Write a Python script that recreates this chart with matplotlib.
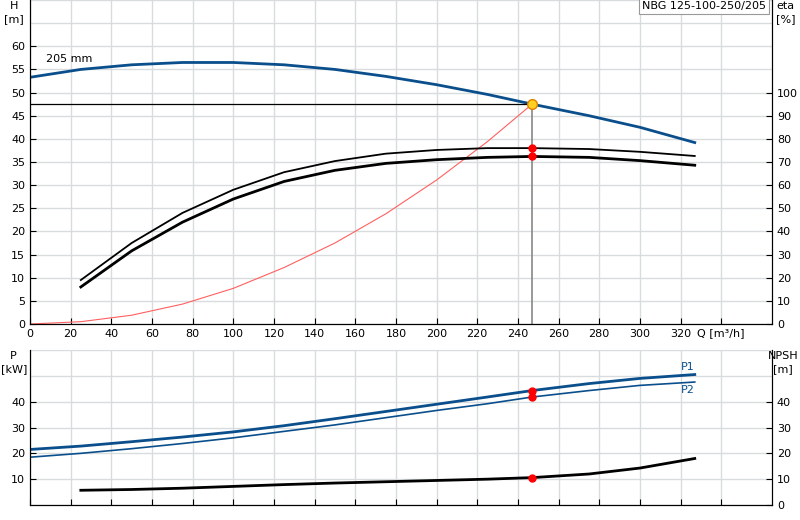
import matplotlib
matplotlib.use("Agg")
import matplotlib.pyplot as plt

q_h = [0, 25, 50, 75, 100, 125, 150, 175, 200, 225, 247, 275, 300, 327]
h = [53.3, 55, 56, 56.5, 56.5, 56, 55, 53.5, 51.7, 49.6, 47.5, 45, 42.5, 39.2]
q_e = [25, 50, 75, 100, 125, 150, 175, 200, 225, 247, 275, 300, 327]
eta1 = [19, 35, 48, 58, 65.6, 70.4, 73.6, 75.2, 76, 76, 75.6, 74.4, 72.6]
eta2 = [16, 31.6, 44, 54, 61.6, 66.4, 69.4, 71, 72, 72.4, 72, 70.6, 68.6]
q_sys = [0, 25, 50, 75, 100, 125, 150, 175, 200, 225, 247]
h_sys = [0, 0.5, 1.9, 4.3, 7.7, 12.2, 17.5, 23.8, 31.1, 39.4, 47.5]
p1 = [21.5, 22.8, 24.5, 26.3, 28.3, 30.7, 33.4, 36.2, 39, 41.8, 44.3, 47, 49, 50.5]
p2 = [18.5, 20, 21.8, 23.8, 26, 28.5, 31, 33.8, 36.6, 39.2, 41.8, 44.3, 46.3, 47.6]
npsh = [5.7, 6, 6.5, 7.2, 7.9, 8.5, 9, 9.5, 10, 10.6, 12, 14.3, 18]
q_op, h_op = 247, 47.5
eta_op = [76, 72.4]
p_op = [44.3, 41.8]
npsh_op = 10.6
xt = list(range(0, 321, 20))
blue = "#0a4f8c"
grid = "#d8dcdf"

fig = plt.figure(figsize=(8, 5.2), dpi=100)
ax = fig.add_axes([30/800, 1-324/520, 742/800, 324/520])
XM = 365
ax.set_xlim(0, XM); ax.set_ylim(0, 70)
ax.set_xticks(xt + [340]); ax.set_xticklabels([str(v) for v in xt] + [""])
ax.set_yticks(range(0, 61, 5))
for v in range(0, 71, 5):
    ax.axhline(v, color=grid, lw=1, zorder=0)
for v in xt + [340]:
    ax.axvline(v, color=grid, lw=1, zorder=0)
ax.tick_params(labelsize=8, length=4, direction="in")
ax.spines["top"].set_visible(False)
ax.plot(q_h, h, color=blue, lw=2)
ax.plot(q_sys, h_sys, color="#ff6060", lw=0.8)
ax.plot([0, q_op], [h_op, h_op], color="black", lw=0.9)
ax.plot([q_op, q_op], [0, h_op], color="#888888", lw=1.2)
ax.text(8, 56.5, "205 mm", fontsize=8)
ax.text(-8, 69.7, "H\n[m]", fontsize=8, ha="center", va="top", linespacing=1.3)
ax.text(340, -0.8, "Q [m³/h]", fontsize=8, ha="center", va="top")
ax2 = ax.twinx()
ax2.set_ylim(0, 140)
ax2.set_yticks(range(0, 101, 10))
ax2.tick_params(labelsize=8, length=4, direction="in")
ax2.spines["top"].set_visible(False)
ax2.plot(q_e, eta1, color="black", lw=1.3)
ax2.plot(q_e, eta2, color="black", lw=2)
ax2.plot([q_op]*2, eta_op, "o", color="red", ms=5, zorder=5)
ax.plot(q_op, h_op, "o", color="#ffd020", mec="#e08000", ms=7, zorder=6)
ax.text(XM + 2, 69.7, "eta\n[%]", fontsize=8, ha="left", va="top", linespacing=1.3)
ax.text(XM-3, 68.8, "NBG 125-100-250/205", fontsize=8, ha="right", va="center",
        bbox=dict(boxstyle="square,pad=0.3", fc="white", ec="#999999", lw=0.8))

bx = fig.add_axes([30/800, 15/520, 742/800, 155/520])
bx.set_xlim(0, XM); bx.set_ylim(0, 60)
bx.set_xticks(xt + [340]); bx.set_xticklabels([])
bx.set_yticks([10, 20, 30, 40])
for v in range(0, 61, 10):
    bx.axhline(v, color=grid, lw=1, zorder=0)
for v in xt + [340]:
    bx.axvline(v, color=grid, lw=1, zorder=0)
bx.tick_params(labelsize=8, length=4, direction="in")
bx.spines["top"].set_visible(False)
bx.plot(q_h, p1, color=blue, lw=2)
bx.plot(q_h, p2, color=blue, lw=1.2)
bx.plot(q_e, npsh, color="black", lw=2)
bx.plot([q_op]*2, p_op, "o", color="red", ms=5, zorder=5)
bx.plot(q_op, npsh_op, "o", color="red", ms=5, zorder=5)
bx.text(327, 51.5, "P1", fontsize=8, color=blue, ha="right", va="bottom")
bx.text(327, 46.5, "P2", fontsize=8, color=blue, ha="right", va="top")
bx.text(-8, 59.5, "P\n[kW]", fontsize=8, ha="center", va="top", linespacing=1.3)
bx2 = bx.twinx()
bx2.set_ylim(0, 60); bx2.set_yticks([0, 10, 20, 30, 40])
bx2.tick_params(labelsize=8, length=4, direction="in")
bx2.spines["top"].set_visible(False)
bx2.text(XM + 5.5, 59.5, "NPSH\n[m]", fontsize=8, ha="center", va="top", linespacing=1.3)
fig.savefig("out.png", dpi=100)
